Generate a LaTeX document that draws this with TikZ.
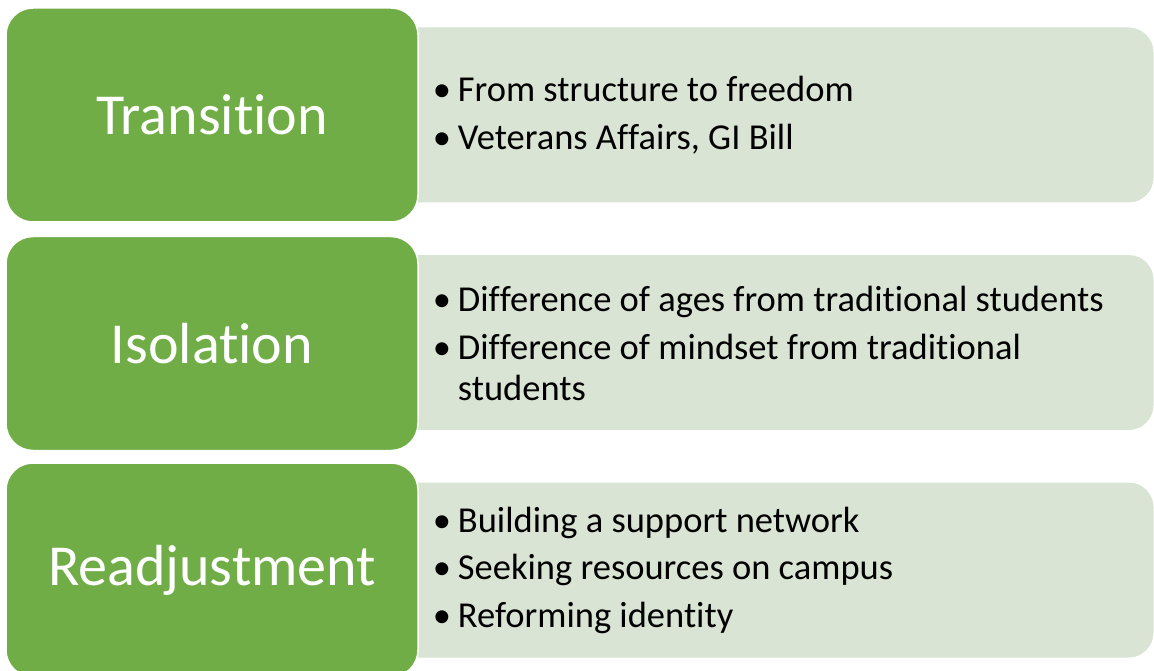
\documentclass[tikz,border=0pt]{standalone}
\usepackage{fontspec}
\setmainfont{Carlito}
\usetikzlibrary{positioning}
\definecolor{topicgreen}{HTML}{70AD47}
\definecolor{notegreen}{HTML}{D9E4D4}
\newcommand{\bul}{\makebox[22pt][l]{\kern-3pt•}}
\newcommand{\nolig}{\kern0pt}

\begin{document}
\begin{tikzpicture}[
  x=1pt, y=-1pt,
  topic/.style={draw=white, line width=1.5pt, fill=topicgreen, rounded corners=27pt, minimum width=412pt, minimum height=214pt, text=white, font=\fontsize{58}{68}\selectfont},
  notes/.style={draw=white, line width=1pt, fill=notegreen, rounded corners=25pt, minimum width=764pt, minimum height=176pt},
  points/.style={inner sep=0pt, anchor=west, align=left, font=\fontsize{36.5}{41}\selectfont}
]
\useasboundingbox (0,0) rectangle (1154,671);

% Note panels
\node[notes] (n1) at (772,115) {};
\node[notes] (n2) at (772,342.5) {};
\node[notes] (n3) at (772,570) {};

% Topics
\node[topic] (t1) at (212,115) {Transit\nolig ion};
\node[topic] (t2) at (212,343.5) {Isolat\nolig ion};
\node[topic] (t3) at (212,570) {Readjustment};

% Points
\node[points, right=17pt of t1.east] (p1) {%
  \bul From structure to freedom\\[6.5pt]
  \bul Veterans Af\nolig fairs, GI Bill};
\node[points, right=17pt of t2.east] (p2) {%
  \bul Dif\nolig ference of ages from tradit\nolig ional students\\[6.5pt]
  \bul Dif\nolig ference of mindset from tradit\nolig ional\\
  \hspace*{22pt}students};
\node[points, right=17pt of t3.east] (p3) {%
  \bul Building a support network\\[6.5pt]
  \bul Seeking resources on campus\\[6.5pt]
  \bul Reforming ident\nolig ity};

\end{tikzpicture}
\end{document}
